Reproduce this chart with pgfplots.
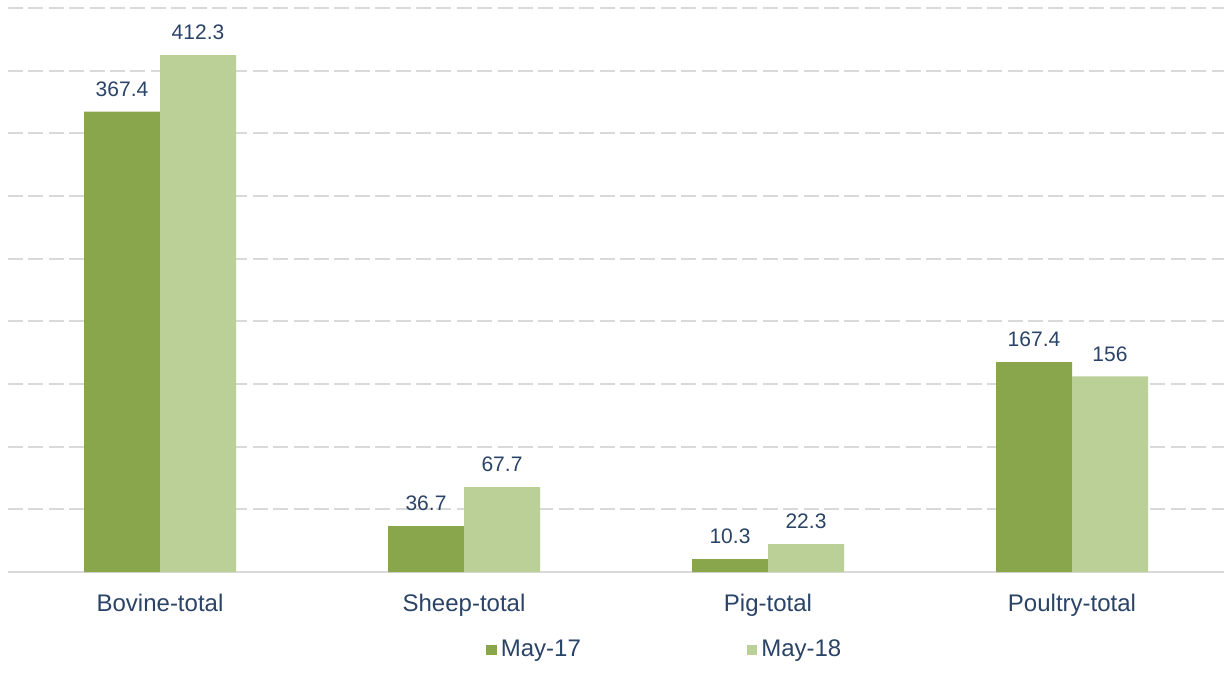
\documentclass[border=0pt]{standalone}
\usepackage{pgfplots}
\pgfplotsset{compat=1.18}
\usepackage{fontspec}
\setmainfont{Liberation Sans}
\definecolor{dg}{HTML}{8AA64D}
\definecolor{lg}{HTML}{BBD097}
\definecolor{txt}{HTML}{2A4366}
\definecolor{grd}{HTML}{D9D9D9}
\begin{document}
\begin{tikzpicture}
\useasboundingbox (-4pt,-61.5pt) rectangle (608pt,286pt);
\begin{axis}[
  at={(0,0)}, anchor=south west,
  scale only axis, width=608pt, height=282pt,
  xmin=-0.5, xmax=3.5, ymin=0, ymax=450,
  ybar=0pt, bar width=0.25,
  xtick={0,1,2,3},
  xticklabels={Bovine-total,Sheep-total,Pig-total,Poultry-total},
  ytick={0,50,...,450}, yticklabels={},
  major tick length=0pt,
  ymajorgrids, grid style={grd, dash pattern=on 7.5pt off 2.7pt, line width=0.9pt},
  axis x line*=bottom, axis y line*=left,
  y axis line style={draw=none},
  x axis line style={grd, line width=0.9pt, -},
  tick label style={font=\fontsize{12}{14}\selectfont, text=txt},
  xticklabel style={yshift=-7.5pt},
  /pgf/number format/assume math mode=true,
  nodes near coords,
  every node near coord/.append style={font=\fontsize{10.5}{12}\selectfont, text=txt, anchor=south, yshift=4pt},
  legend columns=2,
  legend style={draw=none, fill=none, at={(0.541,-0.138)}, anchor=center, font=\fontsize{12}{14}\selectfont, text=txt,
    /tikz/every even column/.append style={column sep=81pt}},
  legend image code/.code={\fill[#1] (0pt,-2.7pt) rectangle (5.2pt,2.5pt);},
]
\addplot[fill=dg, draw=none] coordinates {(0,367.4) (1,36.7) (2,10.3) (3,167.4)};
\addplot[fill=lg, draw=none] coordinates {(0,412.3) (1,67.7) (2,22.3) (3,156)};
\legend{May-17,May-18}
\end{axis}
\end{tikzpicture}
\end{document}
